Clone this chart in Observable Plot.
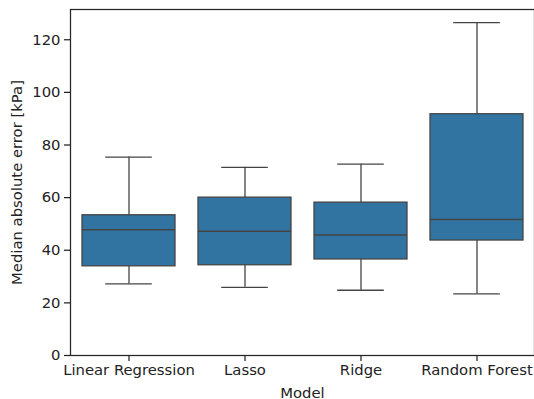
<!DOCTYPE html>
<html>
<head>
<meta charset="utf-8">
<script src="https://cdn.jsdelivr.net/npm/d3@7"></script>
<script src="https://cdn.jsdelivr.net/npm/@observablehq/plot@0.6"></script>
<style>
  html, body { margin: 0; padding: 0; background: #fff; }
</style>
</head>
<body>
<div id="chart"></div>
<script>
const models = ["Linear Regression", "Lasso", "Ridge", "Random Forest"];
const whiskerLow = [27.2, 25.9, 24.8, 23.4];
const q1 = [33.9, 34.3, 36.5, 43.7];
const median = [47.8, 47.2, 45.8, 51.7];
const q3 = [53.3, 60.0, 58.1, 91.7];
const whiskerHigh = [75.4, 71.5, 72.7, 126.5];
const yTicks = [0, 20, 40, 60, 80, 100, 120];
const xLabel = "Model";
const yLabel = "Median absolute error [kPa]";

const data = models.map((m, i) => ({
  model: m, lo: whiskerLow[i], q1: q1[i], med: median[i], q3: q3[i], hi: whiskerHigh[i]
}));

const lineColor = "#444444";
const boxFill = "#3274a1";
const font = "'DejaVu Sans', sans-serif";

const chart = Plot.plot({
  width: 534,
  height: 399,
  marginLeft: 70,
  marginRight: 0,
  marginTop: 9,
  marginBottom: 44,
  style: { fontFamily: font, fontSize: "14.8px", color: "#222222", background: "#fff" },
  x: { type: "band", domain: models, paddingInner: 0.2, paddingOuter: 0.1, label: null },
  y: { domain: [0, 131.5], label: null },
  marks: [
    Plot.ruleX(data, { x: "model", y1: "q3", y2: "hi", stroke: lineColor, strokeWidth: 1.3 }),
    Plot.ruleX(data, { x: "model", y1: "lo", y2: "q1", stroke: lineColor, strokeWidth: 1.3 }),
    Plot.barY(data, { x: "model", y1: "q1", y2: "q3", fill: boxFill, stroke: lineColor, strokeWidth: 1.3 }),
    Plot.tickY(data, { x: "model", y: "med", stroke: lineColor, strokeWidth: 1.6 }),
    Plot.tickY(data, { x: "model", y: "hi", stroke: lineColor, strokeWidth: 1.3, insetLeft: 23.2, insetRight: 23.2 }),
    Plot.tickY(data, { x: "model", y: "lo", stroke: lineColor, strokeWidth: 1.3, insetLeft: 23.2, insetRight: 23.2 }),
    Plot.frame({ stroke: "#262626", strokeWidth: 1.25 }),
    Plot.axisY(yTicks, { tickSize: 6, tickPadding: 4, label: null, strokeWidth: 1.25 }),
    Plot.axisX({ tickSize: 6, tickPadding: 3, label: null, strokeWidth: 1.25 }),
    Plot.text([xLabel], { frameAnchor: "bottom", dy: 42, lineAnchor: "bottom", fill: "#222222" }),
    Plot.text([yLabel], { frameAnchor: "left", dx: -49, rotate: -90, textAnchor: "middle", lineAnchor: "bottom", fill: "#222222" })
  ]
});
document.getElementById("chart").appendChild(chart);
</script>
</body>
</html>
